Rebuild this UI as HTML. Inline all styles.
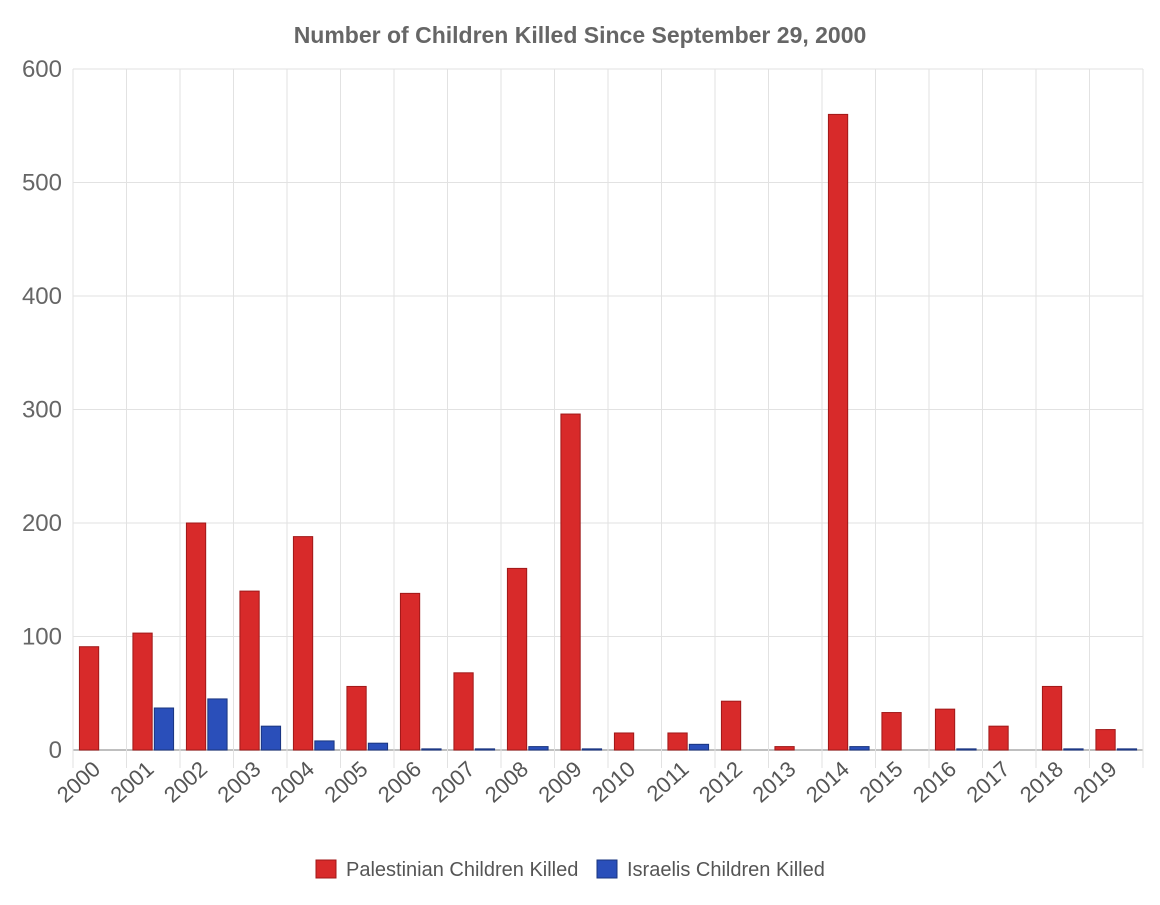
<!DOCTYPE html>
<html><head><meta charset="utf-8"><style>
body{margin:0;background:#fff;font-family:"Liberation Sans",Arial,sans-serif}
</style></head><body>
<svg id="chart" width="1160" height="900" xmlns="http://www.w3.org/2000/svg" font-family="Liberation Sans, Arial, sans-serif">
<text x="580" y="43" text-anchor="middle" font-size="23" font-weight="bold" fill="#666">Number of Children Killed Since September 29, 2000</text>
<g id="grid"></g><g id="bars"></g><g id="labels"></g>
<g>
<g><rect x="316" y="860" width="20" height="18" fill="#d82a2a" stroke="#a01818"/><text x="346" y="876" font-size="20" fill="#555">Palestinian Children Killed</text></g>
<g><rect x="597" y="860" width="20" height="18" fill="#2a4fba" stroke="#1a357f"/><text x="627" y="876" font-size="20" fill="#555">Israelis Children Killed</text></g>
</g>
</svg>
<script>
const categories=["2000","2001","2002","2003","2004","2005","2006","2007","2008","2009","2010","2011","2012","2013","2014","2015","2016","2017","2018","2019"];
const palestinian=[91,103,200,140,188,56,138,68,160,296,15,15,43,3,560,33,36,21,56,18];
const israeli=[0,37,45,21,8,6,1,1,3,1,0,5,0,0,3,0,1,0,1,1];
const yTicks=[0,100,200,300,400,500,600];
const NS="http://www.w3.org/2000/svg";
const L=73,R=1143,T=69,B=750,yMax=600;
const y=v=>B-(v/yMax)*(B-T);
const cw=(R-L)/categories.length;
const xc=i=>L+cw*i;
function mk(t,a,p){const e=document.createElementNS(NS,t);for(const k in a)e.setAttribute(k,a[k]);p.appendChild(e);return e;}
const grid=document.getElementById('grid'),bars=document.getElementById('bars'),labels=document.getElementById('labels');
yTicks.forEach(t=>{
 const ln=mk('line',{x1:L,x2:R,y1:y(t),y2:y(t),stroke:t===0?'#aaa':'#e2e2e2','stroke-width':t===0?1.5:1},grid);
 
 
 const tx=mk('text',{x:62,y:y(t)+8,'text-anchor':'end','font-size':24,fill:'#666'},labels);
 tx.textContent=t;
 
 
});
for(let i=0;i<=categories.length;i++){
 const ln=mk('line',{x1:xc(i),x2:xc(i),y1:T,y2:B+18,stroke:'#e2e2e2'},grid);
 
 
}
const bw=cw*0.4*0.9,gap=cw*0.4*0.05;
categories.forEach((c,i)=>{
 const s=xc(i)+cw*0.1;
 const vp=palestinian[i],vi=israeli[i];
 const r1=mk('rect',{x:s+gap,y:y(vp),width:bw,height:B-y(vp),fill:'#d82a2a',stroke:'#a01818','stroke-width':1},bars);
 
 
 if(vi>0){
 const r2=mk('rect',{x:s+cw*0.4+gap,y:y(vi),width:bw,height:B-y(vi),fill:'#2a4fba',stroke:'#1a357f','stroke-width':1},bars);
 
 
 }
 const cx=xc(i)+cw/2;
 const tx=mk('text',{x:0,y:0,'text-anchor':'end','font-size':22,fill:'#555',transform:`translate(${cx+2},${B+21}) rotate(-42)`},labels);
 tx.textContent=c;
 
 
});
</script>
</body></html>
